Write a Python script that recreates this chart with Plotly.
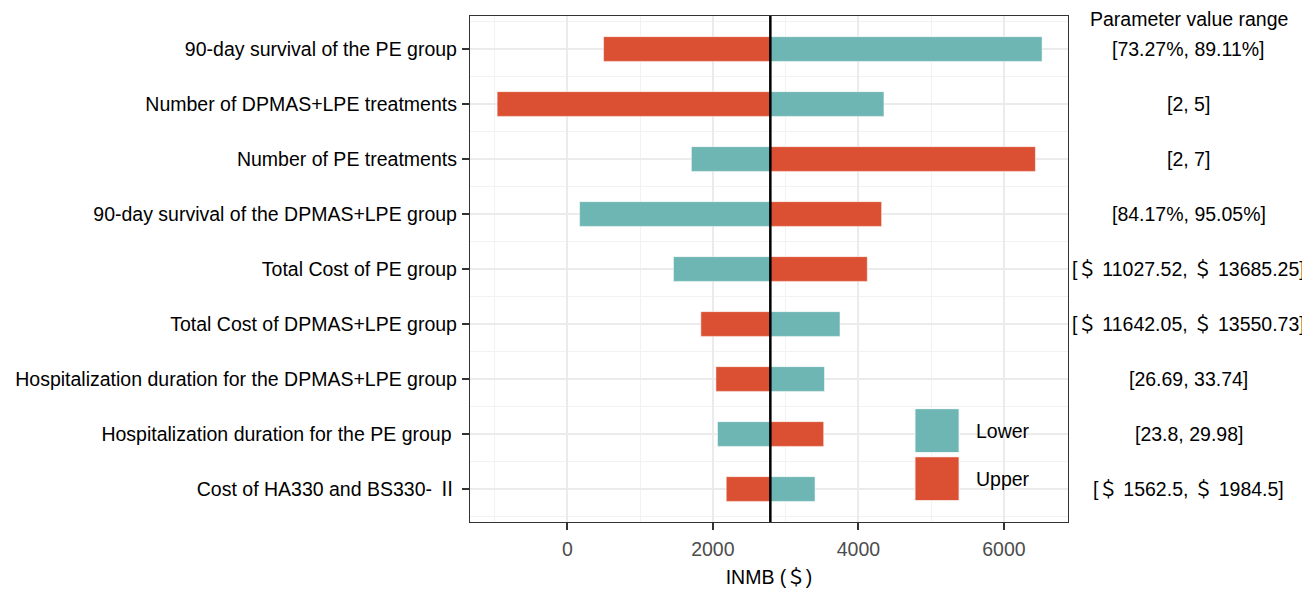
import plotly.graph_objects as go

categories = [
    "90-day survival of the PE group",
    "Number of DPMAS+LPE treatments",
    "Number of PE treatments",
    "90-day survival of the DPMAS+LPE group",
    "Total Cost of PE group",
    "Total Cost of DPMAS+LPE group",
    "Hospitalization duration for the DPMAS+LPE group",
    "Hospitalization duration for the PE group ",
    "Cost of HA330 and BS330- Ⅱ",
]
lower_vals = [6524, 4351, 1705, 169, 1459, 3747, 3534, 2064, 3404]
upper_vals = [498, -964, 6432, 4319, 4122, 1835, 2042, 3523, 2184]
base_value = 2790
range_labels = [
    "[73.27%, 89.11%]",
    "[2, 5]",
    "[2, 7]",
    "[84.17%, 95.05%]",
    "[＄ 11027.52, ＄ 13685.25]",
    "[＄ 11642.05, ＄ 13550.73]",
    "[26.69, 33.74]",
    "[23.8, 29.98]",
    "[＄ 1562.5, ＄ 1984.5]",
]
x_ticks = [0, 2000, 4000, 6000]

TEAL = "#6EB6B3"
RED = "#DB5032"
FONT = "Liberation Sans, Arial, Noto Sans CJK SC, sans-serif"
FS = 19.5

ypos = list(range(1, len(categories) + 1))

fig = go.Figure()
fig.add_trace(go.Bar(
    y=ypos, x=[v - base_value for v in lower_vals], base=base_value,
    orientation="h", width=0.45, marker=dict(color=TEAL, line=dict(color="white", width=0.5)),
    name="Lower", showlegend=False,
))
fig.add_trace(go.Bar(
    y=ypos, x=[v - base_value for v in upper_vals], base=base_value,
    orientation="h", width=0.45, marker=dict(color=RED, line=dict(color="white", width=0.5)),
    name="Upper", showlegend=False,
))

fig.update_layout(
    width=1310, height=589,
    margin=dict(l=462, r=250, t=8, b=75),
    paper_bgcolor="white", plot_bgcolor="white",
    barmode="overlay",
    font=dict(family=FONT, size=FS, color="black"),
    xaxis=dict(
        range=[-1337, 6880], tickvals=x_ticks, ticks="outside", ticklen=7, tickwidth=1.5,
        tickcolor="#333333", tickfont=dict(color="#4D4D4D", size=FS), ticklabelstandoff=2,
        showgrid=True, gridcolor="#EBEBEB", gridwidth=2,
        minor=dict(dtick=1000, tick0=-1000, showgrid=True, gridcolor="#F2F2F2", gridwidth=1, ticks=""),
        showline=True, linecolor="#333333", linewidth=1.3, mirror=True, zeroline=False,
        title=dict(text="INMB (＄)", font=dict(size=FS, color="black"), standoff=11),
    ),
    yaxis=dict(
        range=[9.6, 0.4], tickvals=ypos, ticktext=categories, ticks="outside", ticklen=7,
        tickwidth=2, tickcolor="#333333", tickfont=dict(color="black", size=FS),
        ticklabelstandoff=1,
        showgrid=True, gridcolor="#EBEBEB", gridwidth=2,
        minor=dict(dtick=1, tick0=0.5, showgrid=True, gridcolor="#F2F2F2", gridwidth=1, ticks=""),
        showline=True, linecolor="#333333", linewidth=1.3, mirror=True, zeroline=False,
    ),
)

shapes = [
    # legend background
    dict(type="rect", xref="paper", yref="paper", x0=0.716, x1=0.986, y0=0.008, y1=0.287,
         fillcolor="white", line=dict(width=0), layer="between"),
    # base line
    dict(type="line", xref="x", yref="paper", x0=base_value, x1=base_value, y0=0, y1=1,
         line=dict(color="black", width=2.5), layer="above"),
    # legend keys
    dict(type="rect", xref="paper", yref="paper", x0=0.744, x1=0.818, y0=0.137, y1=0.224,
         fillcolor=TEAL, line=dict(color="white", width=1), layer="above"),
    dict(type="rect", xref="paper", yref="paper", x0=0.744, x1=0.818, y0=0.042, y1=0.129,
         fillcolor=RED, line=dict(color="white", width=1), layer="above"),
]
fig.update_layout(shapes=shapes)

annotations = [
    dict(text="Lower", xref="paper", yref="paper", x=0.843, y=0.180, xanchor="left",
         yanchor="middle", showarrow=False, font=dict(size=FS, color="black")),
    dict(text="Upper", xref="paper", yref="paper", x=0.843, y=0.085, xanchor="left",
         yanchor="middle", showarrow=False, font=dict(size=FS, color="black")),
    dict(text="Parameter value range", xref="paper", yref="paper", x=1.202, y=0.995,
         xanchor="center", yanchor="middle", showarrow=False, font=dict(size=FS, color="black")),
]
for yp, lab in zip(ypos, range_labels):
    annotations.append(dict(text=lab, xref="paper", yref="y", x=1.202, y=yp, xanchor="center",
                            yanchor="middle", showarrow=False, font=dict(size=FS, color="black")))
fig.update_layout(annotations=annotations)

fig.write_html("out.html")
